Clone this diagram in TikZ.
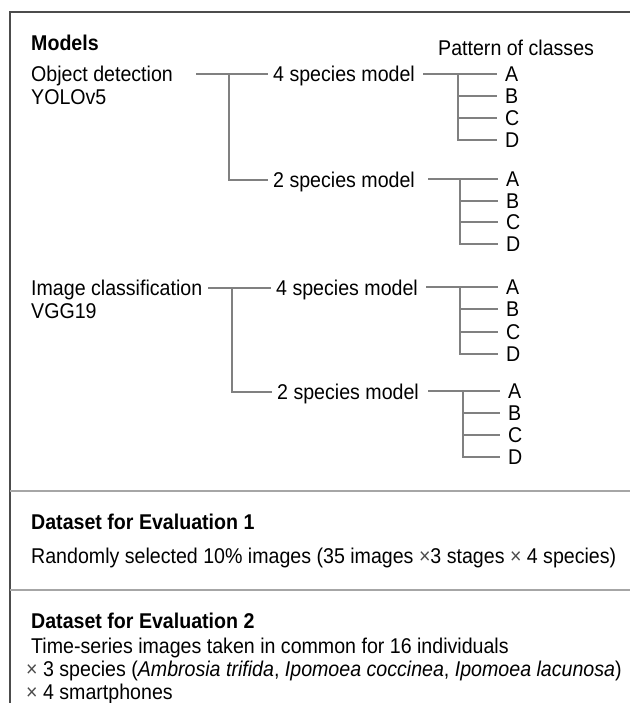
\documentclass[tikz,border=0pt]{standalone}
\usepackage{fontspec}
\usepackage{graphicx}
\setmainfont{Liberation Sans}
\newsavebox\tallbox
\begin{document}
\begin{tikzpicture}[x=1pt,y=-1pt,
  font=\fontsize{19.6}{23}\selectfont,
  txt/.style={anchor=west,inner sep=0pt,text height=15.3pt,text depth=0pt,
    execute at begin node={\begin{lrbox}{\tallbox}},
    execute at end node={\end{lrbox}\scalebox{1}[1.09]{\usebox\tallbox}}},
  head/.style={txt,font=\fontsize{19.6}{23}\selectfont\bfseries},
  mdl/.style={txt,inner xsep=5pt},
  cls/.style={txt,inner xsep=8pt},
  tree/.style={draw=black!50,line width=1.2pt},
  rule/.style={draw=black!35,line width=1.8pt}]
\useasboundingbox (0,0) rectangle (630,703);
\draw[draw=black!70,line width=1.5pt] (10,703) -- (10,12) -- (630,12);

\node[head] (models) at (31,43) {Models};
\node[txt] (pattern) at (438,48) {Pattern of classes};

\node[txt] (od) at (31,74) {Object detection};
\node[txt] (yolo) at (31,97) {YOLOv5};
\coordinate (odL) at (196,74);
\coordinate (odJ) at (229,74);
\node[mdl] (od4) at (268,74) {4 species model};
\node[mdl] (od2) at (268,180) {2 species model};
\draw[tree] (odL) -- (od4.west);
\draw[tree] (odJ) |- (od2.west);

\node[cls] (od4A) at (497,74) {A};
\node[cls] (od4B) at (497,96) {B};
\node[cls] (od4C) at (497,118) {C};
\node[cls] (od4D) at (497,140) {D};
\coordinate (od4J) at (458,74);
\draw[tree,shorten <=3pt] (od4.east) -- (od4A.west);
\draw[tree] (od4J) |- (od4D.west);
\draw[tree] (od4J |- od4B) -- (od4B.west);
\draw[tree] (od4J |- od4C) -- (od4C.west);

\node[cls] (od2A) at (498,179) {A};
\node[cls] (od2B) at (498,201) {B};
\node[cls] (od2C) at (498,222) {C};
\node[cls] (od2D) at (498,244) {D};
\coordinate (od2J) at (460,179);
\draw[tree,shorten <=8pt] (od2.east |- od2A) -- (od2A.west);
\draw[tree] (od2J) |- (od2D.west);
\draw[tree] (od2J |- od2B) -- (od2B.west);
\draw[tree] (od2J |- od2C) -- (od2C.west);

\node[txt] (ic) at (31,288) {Image classification};
\node[txt] (vgg) at (31,311) {VGG19};
\coordinate (icL) at (208,288);
\coordinate (icJ) at (232,288);
\node[mdl] (ic4) at (271,288) {4 species model};
\node[mdl] (ic2) at (272,392) {2 species model};
\draw[tree] (icL) -- (ic4.west);
\draw[tree] (icJ) |- (ic2.west);

\node[cls] (ic4A) at (498,287) {A};
\node[cls] (ic4B) at (498,309) {B};
\node[cls] (ic4C) at (498,332) {C};
\node[cls] (ic4D) at (498,354) {D};
\coordinate (ic4J) at (460,287);
\draw[tree,shorten <=3pt] (ic4.east |- ic4A) -- (ic4A.west);
\draw[tree] (ic4J) |- (ic4D.west);
\draw[tree] (ic4J |- ic4B) -- (ic4B.west);
\draw[tree] (ic4J |- ic4C) -- (ic4C.west);

\node[cls] (ic2A) at (500,391) {A};
\node[cls] (ic2B) at (500,413) {B};
\node[cls] (ic2C) at (500,435) {C};
\node[cls] (ic2D) at (500,457) {D};
\coordinate (ic2J) at (463,391);
\draw[tree,shorten <=4pt] (ic2.east |- ic2A) -- (ic2A.west);
\draw[tree] (ic2J) |- (ic2D.west);
\draw[tree] (ic2J |- ic2B) -- (ic2B.west);
\draw[tree] (ic2J |- ic2C) -- (ic2C.west);

\draw[rule] (10,491) -- (630,491);
\node[head] (eval1) at (31,522) {Dataset for Evaluation 1};
\node[txt] (rand) at (31,556) {Randomly selected 10\% images (35 images {\color{black!70}×}3 stages {\color{black!70}×} 4 species)};

\draw[rule] (10,590) -- (630,590);
\node[head] (eval2) at (31,621) {Dataset for Evaluation 2};
\node[txt] (series) at (31,646) {Time-series images taken in common for 16 individuals};
\node[txt] (spec) at (26,669) {{\color{black!70}×} 3 species (\textit{Ambrosia trifida}, \textit{Ipomoea coccinea}, \textit{Ipomoea lacunosa})};
\node[txt] (phone) at (26,692) {{\color{black!70}×} 4 smartphones};
\end{tikzpicture}
\end{document}
